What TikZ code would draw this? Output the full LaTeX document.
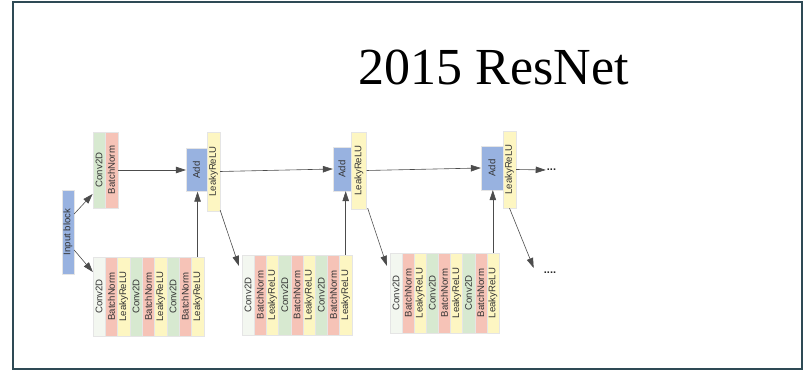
\documentclass[tikz,border=0pt]{standalone}
\usepackage{fontspec}
\setmainfont{Liberation Serif}
\newfontfamily\lblfont{Liberation Sans}
\usetikzlibrary{arrows.meta,calc}
\definecolor{frameC}{HTML}{2E4A55}
\definecolor{cgreen}{HTML}{D7E9D0}
\definecolor{cpale}{HTML}{F3F7F0}
\definecolor{cred}{HTML}{F6C3B7}
\definecolor{cyellow}{HTML}{FDF6C2}
\definecolor{cblue}{HTML}{98B2E0}
\tikzset{
  lay/.style={rotate=90, inner sep=0pt, font=\lblfont\fontsize{9.6}{9.6}\selectfont,
    text=black!80, draw=black!10, line width=0.3pt},
  conn/.style={draw=black!70, line width=0.6pt, -{Triangle[length=10pt,width=6.5pt]}},
  dotsn/.style={inner sep=0pt, font=\lblfont\bfseries\fontsize{11}{11}\selectfont, text=black!85},
}
\begin{document}
\begin{tikzpicture}[x=1pt,y=-1pt]
\useasboundingbox (0,0) rectangle (807,374);
\draw[frameC, line width=2pt] (13,2) rectangle (802,369);

% title
\node[anchor=base, inner sep=0pt, font=\fontsize{52}{52}\selectfont] (title) at (493.5,85) {2015 ResNet};

% input block
\node[lay, fill=cblue, minimum width=84pt, minimum height=12pt] (inp) at (68,232) {Input block};

% top (shortcut) block
\node[lay, fill=cgreen, minimum width=76pt, minimum height=12.5pt] (t1) at (99,170) {Conv2D};
\node[lay, fill=cred, minimum width=76pt, minimum height=12.5pt] (t2) at (111.5,170) {BatchNorm};

% add / relu units
\node[lay, fill=cblue, minimum width=43pt, minimum height=21pt] (a1) at (196.5,170) {Add};
\node[lay, fill=cyellow, minimum width=79pt, minimum height=13pt] (r1) at (213.5,171.5) {LeakyReLU};
\node[lay, fill=cblue, minimum width=44pt, minimum height=18pt] (a2) at (342,169) {Add};
\node[lay, fill=cyellow, minimum width=77pt, minimum height=15pt] (r2) at (359,170.5) {LeakyReLU};
\node[lay, fill=cblue, minimum width=44pt, minimum height=22pt] (a3) at (492,168) {Add};
\node[lay, fill=cyellow, minimum width=77pt, minimum height=13pt] (r3) at (509.5,169.5) {LeakyReLU};

% lower residual blocks
\foreach \i/\c/\t in {1/cpale/Conv2D,2/cred/BatchNorm,3/cyellow/LeakyReLU,4/cgreen/Conv2D,5/cred/BatchNorm,6/cyellow/LeakyReLU,7/cgreen/Conv2D,8/cred/BatchNorm,9/cyellow/LeakyReLU}{
  \node[lay, fill=\c, minimum width=79pt, minimum height=12.3pt] (La\i) at ({93+12.3*(\i-0.5)},296.5) {\t};
  \node[lay, fill=\c, minimum width=80pt, minimum height=12.2pt] (Lb\i) at ({242+12.2*(\i-0.5)},295) {\t};
  \node[lay, fill=\c, minimum width=80pt, minimum height=12.1pt] (Lc\i) at ({390+12.1*(\i-0.5)},293) {\t};
}

% dots
\node[dotsn] (d1) at (551.5,170) {...};
\node[dotsn] (d2) at (550,273) {....};

% connectors
\draw[conn] ($(inp.south)+(0,-18)$) -- ($(t1.north)+(0,24)$);
\draw[conn] ($(inp.south)+(0,18)$) -- ($(La1.north)+(0,-24.5)$);
\draw[conn] (t2.south) -- (a1.north);
\draw[conn] (La9.east) -- (La9.east |- a1.west);
\draw[conn] (r1.south) -- (a2.north);
\draw[conn] ($(r1.south west)+(0,-1)$) -- ($(Lb1.north east)+(-3,11)$);
\draw[conn] (Lb9.east) -- (Lb9.east |- a2.west);
\draw[conn] (r2.south) -- (a3.north);
\draw[conn] ($(r2.south west)+(1,-1)$) -- ($(Lc1.north east)+(-3,13)$);
\draw[conn] (Lc9.east) -- (Lc9.east |- a3.west);
\draw[conn, shorten >=1pt] (r3.south) -- (d1.west);
\draw[conn] (r3.west) -- ($(d2.west)+(-10,-5)$);
\end{tikzpicture}
\end{document}
